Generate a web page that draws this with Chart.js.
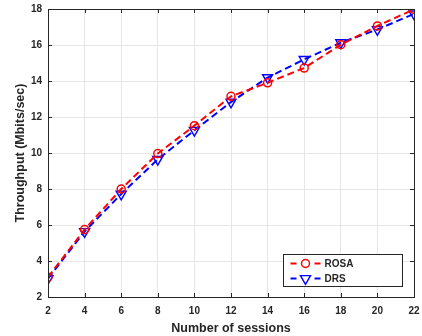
<!DOCTYPE html>
<html>
<head>
<meta charset="utf-8">
<script src="https://cdn.jsdelivr.net/npm/chart.js@4.4.0/dist/chart.umd.min.js"></script>
<style>
html,body{margin:0;padding:0;background:#fff;}
#wrap{width:422px;height:336px;position:relative;}
</style>
</head>
<body>
<div id="wrap"><canvas id="c" width="422" height="336"></canvas></div>
<script>
const sessions = [2, 4, 6, 8, 10, 12, 14, 16, 18, 20, 22];
const rosa = [3.1, 5.75, 8.0, 9.97, 11.52, 13.15, 13.9, 14.72, 16.02, 17.06, 17.98];
const drs  = [3.02, 5.64, 7.72, 9.65, 11.26, 12.83, 14.19, 15.2, 16.13, 16.86, 17.73];
const seriesNames = ['ROSA', 'DRS'];
const xTitle = 'Number of sessions';
const yTitle = 'Throughput (Mbits/sec)';

const FONT = '"Liberation Sans", Arial, sans-serif';
const TXT = '#262626';

const toPts = (xs, ys) => xs.map((x, i) => ({x: x, y: ys[i]}));

const frame = {
  id: 'frame',
  afterDraw(chart) {
    const ctx = chart.ctx, a = chart.chartArea;
    const xs = chart.scales.x, ys = chart.scales.y;
    ctx.save();
    ctx.strokeStyle = TXT;
    ctx.lineWidth = 1;
    ctx.strokeRect(Math.round(a.left) + 0.5, Math.round(a.top) + 0.5,
                   Math.round(a.right - a.left), Math.round(a.bottom - a.top));
    ctx.beginPath();
    xs.ticks.forEach(t => {
      const p = Math.round(xs.getPixelForValue(t.value)) + 0.5;
      ctx.moveTo(p, a.bottom); ctx.lineTo(p, a.bottom - 4);
      ctx.moveTo(p, a.top); ctx.lineTo(p, a.top + 4);
    });
    ys.ticks.forEach(t => {
      const p = Math.round(ys.getPixelForValue(t.value)) + 0.5;
      ctx.moveTo(a.left, p); ctx.lineTo(a.left + 4, p);
      ctx.moveTo(a.right, p); ctx.lineTo(a.right - 4, p);
    });
    ctx.stroke();

    // legend (line - marker - line + label), built from dataset styles
    const lx = 283.5, ly = 254.5, lw = 119, lh = 32;
    ctx.fillStyle = '#fff';
    ctx.fillRect(lx, ly, lw, lh);
    ctx.strokeStyle = '#262626';
    ctx.strokeRect(lx, ly, lw, lh);
    chart.data.datasets.forEach((ds, i) => {
      const cy = ly + 9 + i * 15;
      ctx.strokeStyle = ds.borderColor;
      ctx.lineWidth = 2;
      ctx.beginPath();
      ctx.moveTo(lx + 7, cy); ctx.lineTo(lx + 13, cy);
      ctx.moveTo(lx + 31, cy); ctx.lineTo(lx + 37, cy);
      ctx.stroke();
      ctx.fillStyle = 'rgba(0,0,0,0)';
      ctx.lineWidth = ds.pointBorderWidth;
      Chart.helpers.drawPoint(ctx, {
        pointStyle: ds.pointStyle, radius: ds.pointRadius, rotation: ds.pointRotation || 0,
        borderWidth: ds.pointBorderWidth
      }, lx + 22, cy);
      ctx.fillStyle = TXT;
      ctx.font = 'bold 10px ' + FONT;
      ctx.textBaseline = 'middle';
      ctx.textAlign = 'left';
      ctx.fillText(ds.label, lx + 41, cy + 0.5);
    });
    ctx.restore();
  }
};

new Chart(document.getElementById('c'), {
  type: 'line',
  data: {
    datasets: [
      {
        label: seriesNames[0], data: toPts(sessions, rosa),
        borderColor: '#ff0000', backgroundColor: 'rgba(0,0,0,0)',
        borderWidth: 2, borderDash: [7, 4],
        pointStyle: 'circle', pointRadius: 4, pointBorderWidth: 1.5,
        pointBorderColor: '#ff0000', pointBackgroundColor: 'rgba(0,0,0,0)',
        tension: 0
      },
      {
        label: seriesNames[1], data: toPts(sessions, drs),
        borderColor: '#0000ff', backgroundColor: 'rgba(0,0,0,0)',
        borderWidth: 2, borderDash: [7, 4],
        pointStyle: 'triangle', pointRotation: 180, pointRadius: 5.8, pointBorderWidth: 1.4,
        pointBorderColor: '#0000ff', pointBackgroundColor: 'rgba(0,0,0,0)',
        tension: 0
      }
    ]
  },
  options: {
    responsive: false,
    animation: false,
    devicePixelRatio: 1,
    layout: {padding: {top: 9, right: 8, left: 13, bottom: 0}},
    plugins: {legend: {display: false}, tooltip: {enabled: false}},
    scales: {
      x: {
        type: 'linear', min: 2, max: 22,
        afterFit(s) { s.height = 39; s.paddingLeft = 0; s.paddingRight = 0; },
        grid: {color: '#e6e6e6', lineWidth: 1, drawTicks: false},
        border: {display: false},
        ticks: {stepSize: 2, color: TXT, padding: 8, font: {family: FONT, size: 10, weight: 'bold'}},
        title: {display: true, text: xTitle, color: TXT, padding: {top: 1, bottom: 0},
                font: {family: FONT, size: 12.5, weight: 'bold'}}
      },
      y: {
        type: 'linear', min: 2, max: 18,
        afterFit(s) { s.width = 35; s.paddingTop = 0; s.paddingBottom = 0; },
        grid: {color: '#e6e6e6', lineWidth: 1, drawTicks: false},
        border: {display: false},
        ticks: {stepSize: 2, color: TXT, padding: 6, font: {family: FONT, size: 10, weight: 'bold'}},
        title: {display: true, text: yTitle, color: TXT, padding: {top: 0, bottom: 2},
                font: {family: FONT, size: 12.5, weight: 'bold'}}
      }
    }
  },
  plugins: [frame]
});
</script>
</body>
</html>
